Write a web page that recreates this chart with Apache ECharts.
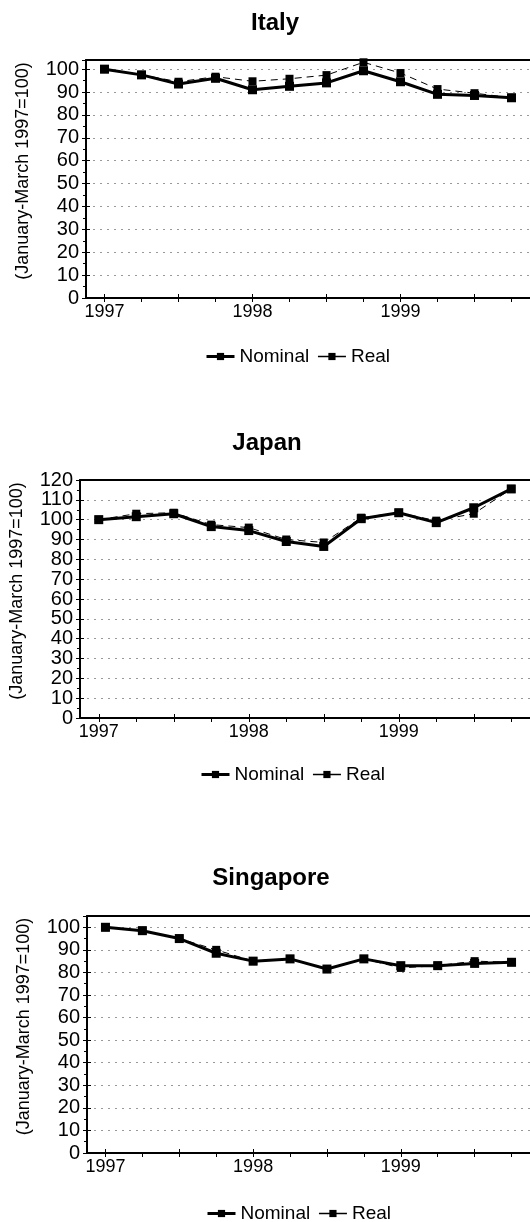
<!DOCTYPE html>
<html>
<head>
<meta charset="utf-8">
<script src="https://cdn.jsdelivr.net/npm/echarts@6/dist/echarts.min.js"></script>
<style>
html,body{margin:0;padding:0;background:#fff;}
#chart{width:530px;height:1222px;}
</style>
</head>
<body>
<div id="chart"></div>
<script>
// ---- data ----
const categories = ['1997 Q1','1997 Q2','1997 Q3','1997 Q4','1998 Q1','1998 Q2','1998 Q3','1998 Q4','1999 Q1','1999 Q2','1999 Q3','1999 Q4'];
const yearLabels = {'1997 Q1':'1997','1998 Q1':'1998','1999 Q1':'1999'};
const seriesNames = ['Nominal','Real'];
const yAxisTitle = '(January-March 1997=100)';

const italyNominal = [100, 97.5, 93.5, 96, 91, 92.5, 94, 99.3, 94.5, 89, 88.5, 87.5];
const italyReal    = [100, 97.5, 94.5, 96.7, 94.7, 95.8, 97.4, 103, 98.3, 91.3, 89.5, 87.5];

const japanNominal = [100, 101.5, 103, 96.5, 94.5, 89, 86.5, 100.5, 103.5, 98.5, 106, 115.5];
const japanReal    = [100, 103, 103.5, 97.5, 96, 90, 88.5, 101, 103.5, 99.5, 103, 115.5];

const singaporeNominal = [100, 98.5, 95, 88.5, 85, 86, 81.5, 86, 83, 83, 84, 84.5];
const singaporeReal    = [100, 98.5, 95, 90, 85, 86, 81.5, 86, 82, 83, 85, 84.5];

const panels = [
  {title:'Italy', nominal: italyNominal, real: italyReal, yMax:104,
   titleX:270, titleY:6, left:86, top:60, height:238, legendX:200, legendY:342},
  {title:'Japan', nominal: japanNominal, real: japanReal, yMax:120,
   titleX:262, titleY:426, left:79, top:480, height:238, legendX:195, legendY:760},
  {title:'Singapore', nominal: singaporeNominal, real: singaporeReal, yMax:105,
   titleX:266, titleY:861, left:87, top:916, height:237, legendX:201, legendY:1199}
];

const FONT = 'Liberation Sans';
const opt = {
  animation:false,
  backgroundColor:'#fff',
  title:[], legend:[], grid:[], xAxis:[], yAxis:[], series:[]
};

panels.forEach((p, i) => {
  opt.title.push({
    text:p.title, left:p.titleX, top:p.titleY, textAlign:'center',
    textStyle:{fontFamily:FONT, fontWeight:'bold', fontSize:24, color:'#000'}
  });
  opt.grid.push({left:p.left, top:p.top, height:p.height, width:452, containLabel:false});
  const xb = i*3, yb = i*2;
  opt.xAxis.push({
    type:'category', gridIndex:i, data:categories, position:'bottom', boundaryGap:true,
    axisLine:{show:true, lineStyle:{color:'#000', width:2}},
    axisTick:{show:true, alignWithLabel:true, length:4, lineStyle:{color:'#000', width:1}},
    axisLabel:{interval:0, margin:5, fontFamily:FONT, fontSize:18, color:'#000',
      formatter:v => yearLabels[v] || ''},
    splitLine:{show:false}
  });
  opt.xAxis.push({
    type:'category', gridIndex:i, data:categories, position:'bottom', boundaryGap:true,
    axisLine:{show:false},
    axisTick:{show:true, inside:true, alignWithLabel:true, length:4, lineStyle:{color:'#000', width:1}},
    axisLabel:{show:false}, splitLine:{show:false}
  });
  opt.xAxis.push({
    type:'category', gridIndex:i, data:categories, position:'top',
    axisLine:{show:true, lineStyle:{color:'#000', width:2}},
    axisTick:{show:false}, axisLabel:{show:false}, splitLine:{show:false}
  });
  opt.yAxis.push({
    type:'value', gridIndex:i, min:0, max:p.yMax, interval:10, position:'left',
    name:yAxisTitle, nameLocation:'middle', nameRotate:90, nameGap:54,
    nameTextStyle:{fontFamily:FONT, fontSize:18, color:'#000', padding:[0,0,0,16]},
    axisLine:{show:true, lineStyle:{color:'#000', width:2}},
    axisTick:{show:true, length:4, lineStyle:{color:'#000', width:1}},
    minorTick:{show:true, splitNumber:2, length:3, lineStyle:{color:'#000', width:1}},
    axisLabel:{showMaxLabel: p.yMax % 10 === 0, margin:7, fontFamily:FONT, fontSize:20, color:'#000',
      padding:[0,0,10,0]},
    splitLine:{show:true, lineStyle:{color:'#999', width:1, type:[2,5]}}
  });
  opt.yAxis.push({
    type:'value', gridIndex:i, min:0, max:p.yMax, interval:10, position:'left',
    axisLine:{show:false},
    axisTick:{show:true, inside:true, length:4, lineStyle:{color:'#000', width:1}},
    minorTick:{show:false},
    axisLabel:{show:false}, splitLine:{show:false}
  });
  opt.series.push({
    name:seriesNames[0], type:'line', xAxisIndex:xb, yAxisIndex:yb, data:p.nominal,
    symbol:'rect', symbolSize:9, itemStyle:{color:'#000'},
    lineStyle:{color:'#000', width:3}, z:3
  });
  opt.series.push({
    name:seriesNames[1], type:'line', xAxisIndex:xb, yAxisIndex:yb, data:p.real,
    symbol:'rect', symbolSize:8, itemStyle:{color:'#000'},
    lineStyle:{color:'#000', width:1, type:[7,5]}, z:2
  });
  opt.legend.push({
    data:[
      {name:seriesNames[0], lineStyle:{width:3, type:'solid'}},
      {name:seriesNames[1], lineStyle:{width:1.5, type:'solid'}}
    ],
    left:p.legendX, top:p.legendY, orient:'horizontal',
    itemWidth:28, itemHeight:9, itemGap:8, selectedMode:false,
    textStyle:{fontFamily:FONT, fontSize:19, color:'#000'}
  });
});

const chart = echarts.init(document.getElementById('chart'), null, {renderer:'canvas'});
chart.setOption(opt);
</script>
</body>
</html>
